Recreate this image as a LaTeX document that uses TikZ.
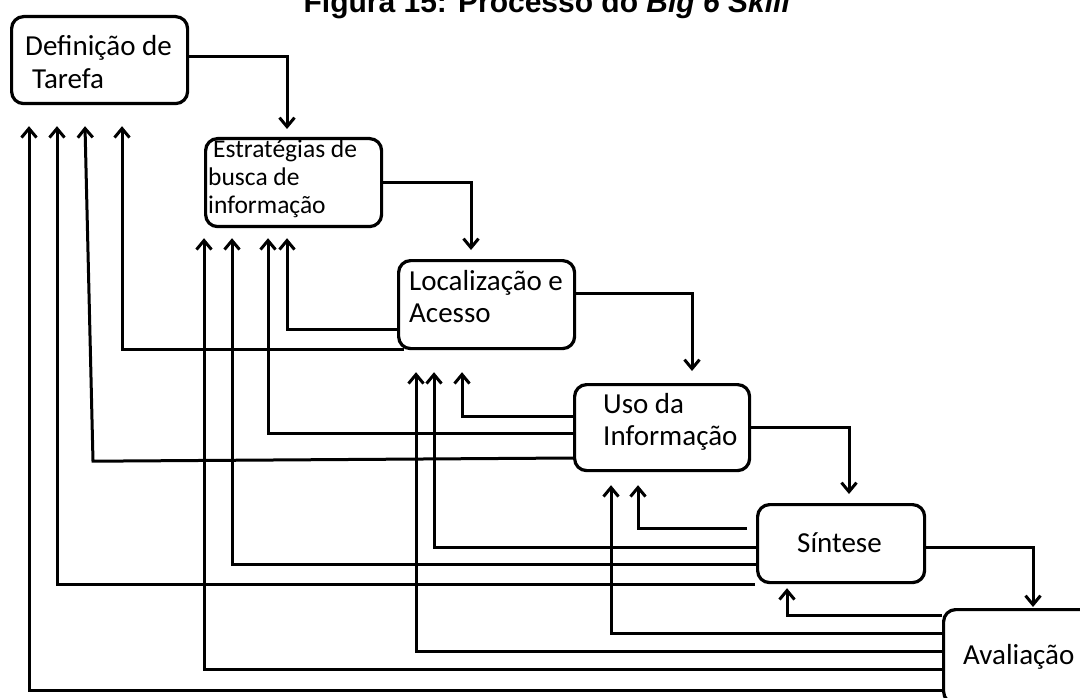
\documentclass[tikz,border=0pt]{standalone}
\usepackage{fontspec}
\setmainfont{Carlito}
\newfontfamily\titlefont{Liberation Sans}
\usetikzlibrary{arrows.meta,calc}
\tikzset{
  box/.style={draw=black, line width=3.2pt, rounded corners=12pt, fill=white, anchor=north west, inner sep=0pt},
  conn/.style={draw=black, line width=3pt},
  arr/.style={conn, -{Straight Barb[length=9pt,width=15pt]}},
  txt/.style={inner sep=0pt, align=left, font=\fontsize{29}{33}\selectfont},
  txts/.style={inner sep=0pt, align=left, font=\fontsize{25.5}{28}\selectfont},
}
\begin{document}
\begin{tikzpicture}[x=1pt,y=-1pt]
\useasboundingbox (0,0) rectangle (1080,698);
\clip (0,0) rectangle (1080,698);

% title (cut at the top, as in the source)
\node[anchor=base, inner sep=0pt, font=\titlefont\fontsize{30}{36}\selectfont\bfseries] (title) at (547,13) {Figura 15: Processo do \textit{Big 6 Skill}};

% boxes
\node[box, minimum width=176pt, minimum height=87pt] (def) at (10,15) {};
\node[box, minimum width=176pt, minimum height=88pt] (est) at (204,137) {};
\node[box, minimum width=176pt, minimum height=88pt] (loc) at (397,259) {};
\node[box, minimum width=175pt, minimum height=86pt] (uso) at (573,383) {};
\node[box, minimum width=167pt, minimum height=78pt] (sin) at (756,503) {};
\node[box, minimum width=160pt, minimum height=94pt] (ava) at (942,608) {};

% texts
\node[txt, anchor=north west] (def-t) at ($(def.north west)+(15,18)$) {\rule{0pt}{22pt}Definição de\\\hspace*{7pt}Tarefa};
\node[txts, anchor=north west] (est-t) at ($(est.north west)+(4,-2)$) {\rule{0pt}{22pt}\hspace*{5pt}Estratégias de\\busca de\\informação};
\node[txt, anchor=north west, font=\fontsize{29}{32}\selectfont] (loc-t) at ($(loc.north west)+(12,9)$) {\rule{0pt}{22pt}Localização e\\Acesso};
\node[txt, anchor=north west, font=\fontsize{29}{32}\selectfont] (uso-t) at ($(uso.north west)+(30,8)$) {\rule{0pt}{22pt}Uso da\\Informação};
\node[txt, anchor=base west] (sin-t) at ($(sin.north west)+(41,49)$) {Síntese};
\node[txt, anchor=base west] (ava-t) at ($(ava.north west)+(21,56)$) {Avaliação};

% forward flow
\draw[arr] ($(def.north east)+(0,42)$) -| ($(est.north west)+(83,-8)$);
\draw[arr] (est.east) -| ($(loc.north west)+(74,-9)$);
\draw[arr] ($(loc.north east)+(0,34)$) -| ($(uso.north west)+(119,-12)$);
\draw[arr] ($(uso.north east)+(0,44)$) -| ($(sin.north west)+(93,-9)$);
\draw[arr] ($(sin.north east)+(0,44)$) -| ($(ava.north west)+(91,-1)$);

% back from Localizacao
\draw[arr] ($(loc.north west)+(0,70)$) -| ($(est.south west)+(83,10)$);
\draw[arr] ($(loc.south west)+(7,-1)$) -| ($(def.south west)+(112,21)$);

% back from Uso
\draw[arr] ($(uso.north west)+(0,33)$) -| ($(loc.south west)+(65,22)$);
\draw[arr] ($(uso.north west)+(0,50)$) -| ($(est.south west)+(64,10)$);
\draw[arr] ($(uso.north west)+(0,75)$) -- ($(def.south west)+(83,356)$) -- ($(def.south west)+(75,21)$);

% back from Sintese
\draw[arr] ($(sin.north west)+(-9,25)$) -| ($(uso.south west)+(65,13)$);
\draw[arr] ($(sin.north west)+(0,44)$) -| ($(loc.south west)+(37,22)$);
\draw[arr] ($(sin.north west)+(0,61)$) -| ($(est.south west)+(28,10)$);
\draw[arr] ($(sin.south west)+(-1,0)$) -| ($(def.south west)+(47,21)$);

% back from Avaliacao
\draw[arr] ($(ava.north west)+(0,7)$) -| ($(sin.south west)+(31,4)$);
\draw[arr] ($(ava.north west)+(0,25)$) -| ($(uso.south west)+(38,13)$);
\draw[arr] ($(ava.north west)+(0,43)$) -| ($(loc.south west)+(19,22)$);
\draw[arr] ($(ava.north west)+(0,61)$) -| ($(est.south west)+(0,10)$);
\draw[arr] ($(ava.north west)+(0,82)$) -| ($(def.south west)+(19,21)$);
\end{tikzpicture}
\end{document}
